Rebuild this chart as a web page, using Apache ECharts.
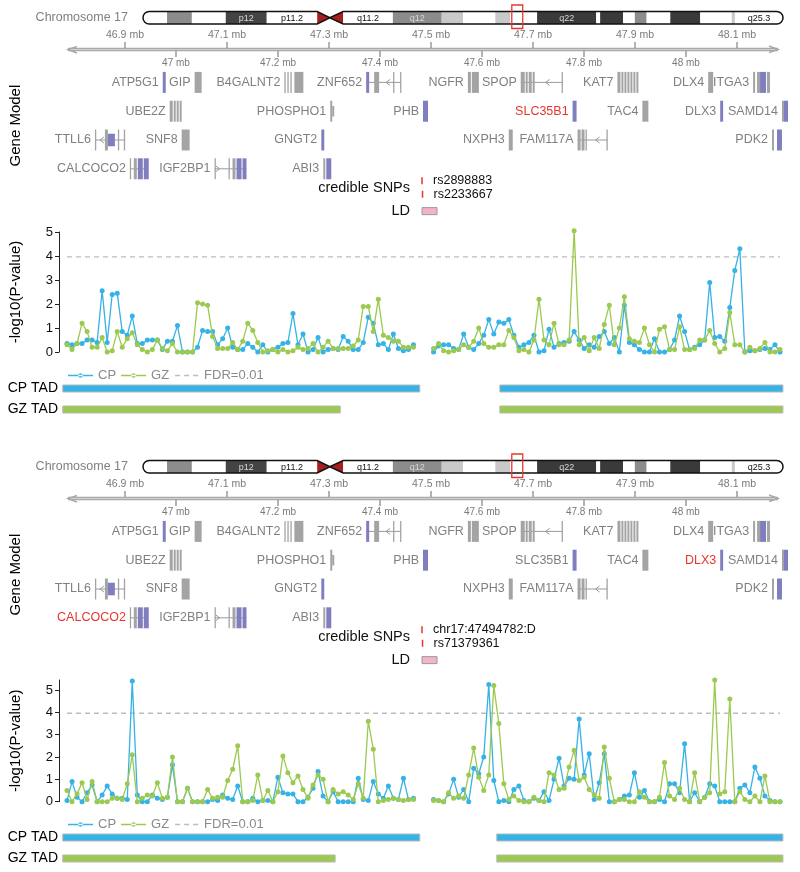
<!DOCTYPE html>
<html>
<head>
<meta charset="utf-8">
<script src="https://cdn.jsdelivr.net/npm/echarts@6/dist/echarts.min.js"></script>
<style>
  html, body { margin: 0; padding: 0; background: #fff; }
  #chart { width: 800px; height: 872px; }
</style>
</head>
<body>
<div id="chart"></div>
<script>
const FONT = '"Liberation Sans", Arial, Helvetica, sans-serif';
const BLUE = '#35b2e6';
const GREEN = '#9cc94f';
const GENE_GRAY = '#a4a4a4';
const GENE_BLUE = '#7f7fc0';
const TXT_GRAY = '#808080';
const RED = '#e8352b';

// genomic window shown in the gene track (Mb)
const VIEW = [46.78824, 48.18039];
const rulerExtent = [[46.78824, 48.18039]];
const rulerTicks = [46.9, 47.0, 47.1, 47.2, 47.3, 47.4, 47.5, 47.6, 47.7, 47.8, 47.9, 48.0, 48.1];

// chromosome 17 ideogram (Mb)
const chrLen = 81.2;
const ideoBands = [
  [0, 3.05, 'gneg', ''], [3.05, 6.2, 'gpos50', ''], [6.2, 10.5, 'gneg', ''],
  [10.5, 15.7, 'gpos75', 'p12'], [15.7, 22.1, 'gneg', 'p11.2'],
  [22.1, 23.7, 'acen', ''], [23.7, 25.4, 'acen', ''],
  [25.4, 31.7, 'gneg', 'q11.2'], [31.7, 37.9, 'gpos50', 'q12'], [37.9, 40.6, 'gpos25', ''],
  [40.6, 44.7, 'gneg', ''], [44.7, 46.6, 'gpos25', ''], [46.6, 50.0, 'gneg', ''],
  [50.0, 57.5, 'gpos100', 'q22'], [57.5, 58.0, 'gneg', ''], [58.0, 60.9, 'gpos100', ''],
  [60.9, 62.4, 'gneg', ''], [62.4, 63.9, 'gpos50', ''], [63.9, 66.9, 'gneg', ''],
  [66.9, 70.7, 'gpos100', ''], [70.7, 74.7, 'gneg', ''], [74.7, 75.1, 'gpos25', ''],
  [75.1, 81.2, 'gneg', 'q25.3']
];
const ideoShape = [[0, 22.1, 23.7, 25.4, 81.2]];
const regionBox = [[46.79, 48.18]];
const STAIN = { gneg: '#ffffff', gpos25: '#c9c9c9', gpos50: '#8c8c8c', gpos75: '#444444', gpos100: '#3a3a3a' };

// genes: name, row, strand, arrow position, span, exons [start, end, colour, height factor]
const genes = [
  ['ATP5G1', 0, 0, null, null, [[46.9706, 46.9765, 'b']]],
  ['GIP', 0, 0, null, null, [[47.0333, 47.0471, 'g']]],
  ['B4GALNT2', 0, 0, null, null, [[47.2098, 47.2118, 'g'], [47.2157, 47.2176, 'g'], [47.2216, 47.2235, 'g'], [47.2294, 47.2471, 'g']]],
  ['ZNF652', 0, -1, 47.4098, [47.3706, 47.4392], [[47.3706, 47.3765, 'b'], [47.3863, 47.3961, 'g'], [47.4235, 47.4255, 'g'], [47.4373, 47.4392, 'g']]],
  ['NGFR', 0, 0, null, null, [[47.5706, 47.5765, 'g'], [47.5784, 47.5922, 'g']]],
  ['SPOP', 0, -1, 47.7235, [47.6745, 47.7569], [[47.6745, 47.6824, 'g'], [47.6843, 47.6882, 'g'], [47.6902, 47.6961, 'g'], [47.6980, 47.7020, 'g'], [47.7549, 47.7569, 'g']]],
  ['KAT7', 0, 0, null, null, [[47.8647, 47.8706, 'g'], [47.8725, 47.8765, 'g'], [47.8784, 47.8824, 'g'], [47.8843, 47.8882, 'g'], [47.8902, 47.8941, 'g'], [47.8961, 47.9000, 'g'], [47.9020, 47.9059, 'g']]],
  ['DLX4', 0, 0, null, null, [[48.0431, 48.0529, 'g']]],
  ['ITGA3', 0, 0, null, null, [[48.1314, 48.1353, 'g'], [48.1392, 48.1451, 'g'], [48.1451, 48.1569, 'b'], [48.1588, 48.1647, 'g']]],
  ['UBE2Z', 1, 0, null, null, [[46.9843, 46.9902, 'g'], [46.9922, 46.9961, 'g'], [46.9980, 47.0020, 'g'], [47.0039, 47.0078, 'g']]],
  ['PHOSPHO1', 1, 0, null, null, [[47.3000, 47.3039, 'g'], [47.3039, 47.3078, 'g', 0.5]]],
  ['PHB', 1, 0, null, null, [[47.4824, 47.4922, 'b']]],
  ['SLC35B1', 1, 0, null, null, [[47.7765, 47.7843, 'b']]],
  ['TAC4', 1, 0, null, null, [[47.9137, 47.9255, 'g']]],
  ['DLX3', 1, 0, null, null, [[48.0667, 48.0725, 'b']]],
  ['SAMD14', 1, 0, null, null, [[48.1882, 48.1922, 'g'], [48.1922, 48.2000, 'b']]],
  ['TTLL6', 2, -1, 46.8471, [46.8373, 46.8961], [[46.8373, 46.8392, 'g'], [46.8569, 46.8627, 'g'], [46.8627, 46.8765, 'b', 0.6], [46.8824, 46.8843, 'g'], [46.8941, 46.8961, 'g']]],
  ['SNF8', 2, 0, null, null, [[47.0078, 47.0235, 'g']]],
  ['GNGT2', 2, 0, null, null, [[47.2824, 47.2882, 'b']]],
  ['NXPH3', 2, 0, null, null, [[47.6510, 47.6588, 'g']]],
  ['FAM117A', 2, -1, 47.8216, [47.7863, 47.8451], [[47.7863, 47.7922, 'g'], [47.7941, 47.8000, 'g'], [47.8020, 47.8039, 'g'], [47.8431, 47.8451, 'g']]],
  ['PDK2', 2, 0, null, null, [[48.1686, 48.1725, 'g'], [48.1784, 48.1882, 'b']]],
  ['CALCOCO2', 3, 0, null, [46.9059, 46.9431], [[46.9059, 46.9078, 'g'], [46.9137, 46.9196, 'g'], [46.9216, 46.9314, 'b'], [46.9333, 46.9431, 'b']]],
  ['IGF2BP1', 3, 1, 47.0824, [47.0725, 47.1353], [[47.0725, 47.0745, 'g'], [47.1000, 47.1020, 'g'], [47.1078, 47.1137, 'g'], [47.1157, 47.1255, 'b'], [47.1275, 47.1353, 'b']]],
  ['ABI3', 3, 0, null, null, [[47.2863, 47.2902, 'g'], [47.2922, 47.3020, 'b']]]
];

// credible SNPs, LD block, TADs
const snps1 = [['rs2898883', 47.4824], ['rs2233667', 47.4834]];
const snps2 = [['chr17:47494782:D', 47.4824], ['rs71379361', 47.4834]];
const ldBlock = [[47.4824, 47.5118]];
const highlight1 = ['SLC35B1'];
const highlight2 = ['CALCOCO2', 'DLX3'];
const tadRows = ['CP TAD', 'GZ TAD'];
const tads1 = [[46.778, 47.478, 0], [47.635, 48.190, 0], [46.778, 47.322, 1], [47.635, 48.190, 1]];
const tads2 = [[46.778, 47.478, 0], [47.629, 48.190, 0], [46.778, 47.312, 1], [47.629, 48.190, 1]];

// -log10(P) per SNP, left and right block
const cpLeft1 = [0.35,0.3,0.35,0.35,0.5,0.5,0.4,2.55,0.4,2.4,
  2.45,0.85,0.7,1.5,0.35,0.35,0.5,0.5,0.5,0.1,
  0.45,0.45,1.1,0.0,0.0,0.0,0.2,0.9,0.85,0.85,
  0.3,0.55,1.0,0.2,0.1,0.1,0.35,0.2,0.0,0.3,
  0.0,0.1,0.2,0.35,0.4,1.6,0.3,0.75,0.0,0.1,
  0.6,0.0,0.1,0.15,0.1,0.65,0.45,0.1,0.1,0.4,
  1.45,1.2,0.3,0.35,0.1,0.75,0.15,0.05,0.1,0.3];
const gzLeft1 = [0.3,0.1,0.35,1.2,0.85,0.2,0.2,0.6,0.0,0.05,
  0.85,0.2,0.55,0.8,0.3,0.1,0.0,0.1,0.5,0.15,
  0.05,0.35,0.0,0.0,0.0,0.0,2.05,2.0,1.95,0.65,
  0.15,0.15,0.15,0.4,0.1,0.45,1.2,0.9,0.4,0.0,
  0.05,0.1,0.0,0.1,0.0,0.05,0.2,0.1,0.15,0.35,
  0.0,0.2,0.45,0.15,0.15,0.15,0.15,0.25,0.5,1.9,
  1.9,0.85,2.2,0.7,0.6,0.45,0.45,0.2,0.2,0.2];
const cpRight1 = [0.0,0.25,0.3,0.3,0.15,0.1,0.75,0.2,0.1,0.35,
  0.7,1.35,0.75,1.25,1.2,1.35,0.7,0.2,0.3,0.4,
  0.7,0.0,0.05,0.95,0.2,0.35,0.4,0.45,0.85,0.5,
  0.15,0.3,0.2,0.65,0.85,0.35,0.6,0.0,1.95,0.4,
  0.3,0.1,0.0,0.0,0.55,0.0,0.0,0.1,0.5,1.5,
  0.85,0.1,0.2,0.3,0.5,2.9,0.6,0.65,0.45,1.85,
  3.4,4.3,0.0,0.05,0.05,0.1,0.15,0.1,0.3,0.0];
const gzRight1 = [0.15,0.35,0.05,0.0,0.05,0.1,0.3,0.2,0.45,1.0,
  0.35,0.2,0.2,0.3,0.3,0.9,0.6,0.05,0.1,0.0,
  0.5,2.2,0.5,0.3,1.2,0.3,0.3,0.5,5.05,0.3,
  0.6,0.05,0.6,0.15,1.15,1.95,0.3,1.0,2.3,0.55,
  0.45,0.4,1.0,0.3,0.0,0.95,1.05,0.1,0.1,1.05,
  0.1,0.1,0.15,0.5,0.5,0.9,0.35,0.0,0.15,1.65,
  0.3,0.3,0.0,0.2,0.05,0.15,0.4,0.0,0.0,0.1];
const cpLeft2 = [0.05,0.9,0.2,0.0,0.4,0.75,0.0,0.3,0.7,0.35,
  0.15,0.15,0.1,5.4,0.3,0.0,0.0,0.3,0.15,0.1,
  0.2,1.65,0.0,0.0,0.6,0.0,0.0,0.0,0.0,0.1,
  0.05,0.3,0.15,0.1,0.7,0.0,0.0,0.15,0.0,0.05,
  0.05,0.0,1.1,0.4,0.35,0.35,0.0,0.0,0.2,0.6,
  1.35,0.25,0.0,0.45,0.0,0.0,0.0,0.0,1.05,0.1,
  0.05,0.9,0.35,0.15,0.7,0.15,0.1,1.05,0.1,0.15];
const gzLeft2 = [0.5,0.0,0.35,0.85,0.1,0.9,0.0,0.0,0.0,0.15,
  0.15,0.1,0.8,2.1,0.0,0.15,0.3,0.25,0.85,0.15,
  0.2,2.0,0.0,0.0,0.6,0.0,0.0,0.0,0.55,0.15,
  0.2,0.2,0.95,1.45,2.5,0.0,0.0,0.05,1.2,0.05,
  0.5,0.0,0.45,2.05,1.3,0.85,1.15,0.55,0.15,0.75,
  1.2,1.0,0.0,0.55,0.35,0.45,0.3,0.1,0.8,0.15,
  3.6,2.35,0.0,0.05,0.1,0.15,0.1,0.05,0.1,0.1];
const cpRight2 = [0.1,0.05,0.0,0.35,1.0,0.2,0.55,0.0,1.5,1.25,
  2.0,5.25,0.95,0.0,0.05,0.0,0.55,0.7,0.05,0.0,
  0.15,0.05,0.45,0.05,1.0,1.95,0.7,1.05,1.0,3.7,
  1.2,2.15,0.1,0.85,2.15,0.0,0.0,0.1,0.25,0.3,
  1.3,0.2,0.5,0.0,0.0,0.1,0.0,0.8,0.8,0.4,
  2.6,0.0,0.4,0.0,0.2,0.8,0.7,0.0,0.0,0.0,
  0.0,0.6,0.75,0.4,1.55,1.05,0.25,0.05,0.0,0.0];
const gzRight2 = [0.05,0.05,0.0,0.4,0.15,0.25,0.15,1.2,2.4,1.1,
  0.5,1.2,5.2,3.5,0.8,0.1,0.25,0.05,0.0,0.0,
  0.2,0.05,0.0,1.3,1.2,0.55,0.6,1.55,2.3,0.95,
  1.1,0.55,0.3,0.15,2.45,1.05,0.0,0.1,0.1,0.0,
  0.0,0.45,0.2,0.0,0.0,0.2,1.75,0.25,0.1,0.6,
  0.1,0.0,1.3,0.0,0.2,0.4,5.45,0.35,0.45,4.6,
  0.0,0.45,0.1,0.0,0.25,0.0,1.15,0.0,0.0,0.0];
const fdrLevel = 3.96;
const yTicks = [0, 1, 2, 3, 4, 5];

const GAP = [null, null, null];
const snpIdx = cpLeft1.concat(GAP, cpRight1).map((_, i) => String(i));

// legend glyphs: line with a small dot, and a short dashed line
const ICON_DOT = 'path://M0 0h0.01v0.01H0z M25 10h-0.01v-0.01H25z M0 4.25H25V5.75H0z M10.2 5a2.3 2.3 0 1 0 4.6 0a2.3 2.3 0 1 0 -4.6 0z';
const ICON_DASH = 'path://M0 0h0.01v0.01H0z M25 10h-0.01v-0.01H25z M1 4.3h5v1.4H1z M10 4.3h5v1.4h-5z M19 4.3h5v1.4h-5z';

function txt(text, x, y, align, vAlign, size, color) {
  return {
    type: 'text', x, y,
    style: {
      text, fill: color, font: size + 'px ' + FONT,
      align, verticalAlign: vAlign, textAlign: align, textVerticalAlign: vAlign
    }
  };
}

function renderBand(params, api) {
  const i = params.dataIndex;
  const b = ideoBands[i];
  const p0 = api.coord([b[0], 1]);
  const p1 = api.coord([b[1], 0]);
  const x0 = p0[0], x1 = p1[0], top = p0[1], bot = p1[1], mid = (top + bot) / 2;
  const r = (bot - top) / 2;
  const kids = [];
  if (b[2] === 'acen') {
    const first = ideoBands[i - 1][2] !== 'acen';
    const pts = first ? [[x0, top], [x1, mid], [x0, bot]] : [[x0, mid], [x1, top], [x1, bot]];
    kids.push({ type: 'polygon', shape: { points: pts }, style: { fill: '#a3201f' } });
  } else {
    const rr = i === 0 ? [r, 0, 0, r] : (i === ideoBands.length - 1 ? [0, r, r, 0] : 0);
    kids.push({ type: 'rect', shape: { x: x0, y: top, width: x1 - x0, height: bot - top, r: rr }, style: { fill: STAIN[b[2]] } });
  }
  if (b[3]) {
    const dark = b[2] === 'gpos75' || b[2] === 'gpos100' || b[2] === 'gpos50';
    kids.push(txt(b[3], (x0 + x1) / 2, mid + 0.5, 'center', 'middle', 9, dark ? '#d8d8d8' : '#111'));
  }
  return { type: 'group', children: kids };
}

function renderOutline(params, api) {
  const s = ideoShape[params.dataIndex];
  const X = v => api.coord([v, 0])[0];
  const top = api.coord([0, 1])[1], bot = api.coord([0, 0])[1];
  const mid = (top + bot) / 2, r = (bot - top) / 2;
  const xs = X(s[0]), xa = X(s[1]), xm = X(s[2]), xb = X(s[3]), xe = X(s[4]);
  const d = 'M' + (xs + r) + ' ' + top + ' L' + xa + ' ' + top + ' L' + xm + ' ' + mid + ' L' + xb + ' ' + top +
    ' L' + (xe - r) + ' ' + top + ' A' + r + ' ' + r + ' 0 0 1 ' + (xe - r) + ' ' + bot +
    ' L' + xb + ' ' + bot + ' L' + xm + ' ' + mid + ' L' + xa + ' ' + bot + ' L' + (xs + r) + ' ' + bot +
    ' A' + r + ' ' + r + ' 0 0 1 ' + (xs + r) + ' ' + top + ' Z';
  return { type: 'path', shape: { pathData: d }, style: { fill: 'none', stroke: '#111', lineWidth: 1.5 } };
}

function renderBox(params, api) {
  const b = regionBox[params.dataIndex];
  const p0 = api.coord([b[0], 1]), p1 = api.coord([b[1], 0]);
  return {
    type: 'rect',
    shape: { x: p0[0], y: p0[1] - 6.5, width: p1[0] - p0[0], height: p1[1] - p0[1] + 11 },
    style: { fill: 'none', stroke: RED, lineWidth: 1.3 }
  };
}

function renderRulerLine(params, api) {
  const e = rulerExtent[params.dataIndex];
  const a = api.coord([e[0], 0.5]), b = api.coord([e[1], 0.5]);
  const y = a[1];
  return {
    type: 'group', children: [
      { type: 'line', shape: { x1: a[0], y1: y, x2: b[0], y2: y }, style: { stroke: '#a9a9a9', lineWidth: 3.5 } },
      { type: 'line', shape: { x1: a[0] + 2, y1: y, x2: b[0] - 2, y2: y }, style: { stroke: '#dcdcdc', lineWidth: 0.8 } },
      { type: 'polyline', shape: { points: [[a[0] + 9, y - 3], [a[0], y], [a[0] + 9, y + 3.5]] }, style: { stroke: '#a9a9a9', lineWidth: 1.5, fill: 'none' } },
      { type: 'polyline', shape: { points: [[b[0] - 9, y - 3.5], [b[0], y], [b[0] - 9, y + 3]] }, style: { stroke: '#a9a9a9', lineWidth: 1.5, fill: 'none' } }
    ]
  };
}

function renderRulerTick(params, api) {
  const v = rulerTicks[params.dataIndex];
  const p = api.coord([v, 0.5]);
  const up = Math.round(v * 10) % 2 !== 0;
  const label = String(Math.round(v * 10) / 10) + ' mb';
  if (up) {
    return {
      type: 'group', children: [
        { type: 'line', shape: { x1: p[0], y1: p[1] - 7.5, x2: p[0], y2: p[1] - 1.5 }, style: { stroke: '#9a9a9a', lineWidth: 1.5 } },
        txt(label, p[0], p[1] - 14, 'center', 'middle', 10.5, '#7a7a7a')
      ]
    };
  }
  return {
    type: 'group', children: [
      { type: 'line', shape: { x1: p[0], y1: p[1] + 1.5, x2: p[0], y2: p[1] + 7.5 }, style: { stroke: '#9a9a9a', lineWidth: 1.5 } },
      txt(label, p[0], p[1] + 13.5, 'center', 'middle', 10, '#7a7a7a')
    ]
  };
}

function makeGeneRenderer(hl) {
  return function (params, api) {
    const g = genes[params.dataIndex];
    const row = g[1], strand = g[2], arrowAt = g[3], span = g[4], exons = g[5];
    const yc = api.coord([exons[0][0], row])[1];
    const H = 21;
    const kids = [];
    let left = api.coord([exons[0][0], row])[0];
    if (span) {
      const a = api.coord([span[0], row])[0], b = api.coord([span[1], row])[0];
      left = Math.min(left, a);
      kids.push({ type: 'line', shape: { x1: a, y1: yc, x2: b, y2: yc }, style: { stroke: '#9a9a9a', lineWidth: 1 } });
      if (arrowAt !== null) {
        const ax = api.coord([arrowAt, row])[0];
        const d = strand < 0 ? 4 : -4;
        kids.push({ type: 'polyline', shape: { points: [[ax + d, yc - 3], [ax, yc], [ax + d, yc + 3]] }, style: { stroke: '#9a9a9a', lineWidth: 1, fill: 'none' } });
      }
    }
    exons.forEach(e => {
      const x1 = api.coord([e[0], row])[0], x2 = api.coord([e[1], row])[0];
      const h = H * (e[3] || 1);
      kids.push({
        type: 'rect',
        shape: { x: x1, y: yc - h / 2, width: Math.max(x2 - x1, 1.3), height: h },
        style: { fill: e[2] === 'b' ? GENE_BLUE : GENE_GRAY }
      });
    });
    const red = hl.indexOf(g[0]) >= 0;
    kids.push(txt(g[0], left - 4, yc, 'right', 'middle', 12.5, red ? RED : TXT_GRAY));
    return { type: 'group', children: kids };
  };
}

function makeSnpRenderer(list) {
  return function (params, api) {
    const p = api.coord([api.value(0), api.value(1)]);
    const kids = [
      { type: 'line', shape: { x1: p[0], y1: p[1] - 3.5, x2: p[0], y2: p[1] + 3.5 }, style: { stroke: RED, lineWidth: 1.5 } },
      txt(list[params.dataIndex][0], p[0] + 11, p[1], 'left', 'middle', 12.5, '#111')
    ];
    if (params.dataIndex === 0) {
      kids.push(txt('credible SNPs', p[0] - 12, p[1] + 6.75, 'right', 'middle', 14.5, '#111'));
    }
    return { type: 'group', children: kids };
  };
}

function renderLd(params, api) {
  const b = ldBlock[params.dataIndex];
  const p0 = api.coord([b[0], 2.25]), p1 = api.coord([b[1], 2.25]);
  return {
    type: 'group', children: [
      { type: 'rect', shape: { x: p0[0], y: p0[1] - 3.5, width: p1[0] - p0[0], height: 7 }, style: { fill: '#f4b4c7', stroke: '#9a9a9a', lineWidth: 1 } },
      txt('LD', p0[0] - 12, p0[1], 'right', 'middle', 14.5, '#111')
    ]
  };
}

function makeTadRenderer(list) {
  return function (params, api) {
    const t = list[params.dataIndex];
    const a = api.coord([t[0], t[2]]), b = api.coord([t[1], t[2]]);
    return {
      type: 'rect',
      shape: { x: a[0], y: a[1] - 3.5, width: b[0] - a[0], height: 7 },
      style: { fill: t[2] === 0 ? BLUE : GREEN, stroke: '#b8b8b8', lineWidth: 1 }
    };
  };
}

const option = {
  animation: false,
  backgroundColor: '#fff',
  textStyle: { fontFamily: FONT },
  grid: [], xAxis: [], yAxis: [], series: [], legend: [], graphic: []
};

function addPanel(P) {
  const D = P.dy;
  const g0 = option.grid.length;
  option.grid.push(
    { left: 143, right: 17, top: 11.5 + D, height: 12.5 },
    { left: 68, right: 22, top: 49 + D, height: 1 },
    { left: 68, right: 22, top: 68 + D, height: 115.2 },
    { left: 68, right: 22, top: 180.75 + D, height: 40.5 },
    { left: 67, right: 20, top: P.lineTop, height: P.lineH },
    { left: 68, right: 22, top: 378 + D, height: 42 }
  );
  const hidden = { show: false };
  option.xAxis.push(
    { type: 'value', gridIndex: g0, min: 0, max: chrLen, ...hidden },
    { type: 'value', gridIndex: g0 + 1, min: VIEW[0], max: VIEW[1], ...hidden },
    { type: 'value', gridIndex: g0 + 2, min: VIEW[0], max: VIEW[1], ...hidden },
    { type: 'value', gridIndex: g0 + 3, min: VIEW[0], max: VIEW[1], ...hidden },
    { type: 'category', gridIndex: g0 + 4, data: snpIdx, boundaryGap: false, ...hidden },
    { type: 'value', gridIndex: g0 + 5, min: VIEW[0], max: VIEW[1], ...hidden }
  );
  option.yAxis.push(
    { type: 'value', gridIndex: g0, min: 0, max: 1, ...hidden },
    { type: 'value', gridIndex: g0 + 1, min: 0, max: 1, ...hidden },
    {
      type: 'value', gridIndex: g0 + 2, min: -0.5, max: 3.5, inverse: true,
      name: 'Gene Model', nameLocation: 'middle', nameGap: 47, nameRotate: 90,
      nameTextStyle: { fontSize: 15, color: '#000', fontFamily: FONT },
      axisLine: { show: false }, axisTick: { show: false }, axisLabel: { show: false }, splitLine: { show: false }
    },
    { type: 'value', gridIndex: g0 + 3, min: 0, max: 3, inverse: true, ...hidden },
    {
      type: 'value', gridIndex: g0 + 4, min: 0, max: P.yMax, interval: 1, offset: 8,
      name: '-log10(P-value)', nameLocation: 'middle', nameGap: 36, nameRotate: 90,
      nameTextStyle: { fontSize: 15, color: '#000', fontFamily: FONT },
      axisLine: { show: true, lineStyle: { color: '#222', width: 1 } },
      axisTick: { show: true, length: 4, lineStyle: { color: '#222' }, customValues: yTicks },
      axisLabel: {
        color: '#111', fontSize: 13, margin: 6, customValues: yTicks,
        formatter: v => (Math.abs(v - Math.round(v)) < 1e-6 ? String(Math.round(v)) : '')
      },
      splitLine: { show: false }
    },
    {
      type: 'category', gridIndex: g0 + 5, data: tadRows, inverse: true,
      axisLine: { show: false }, axisTick: { show: false },
      axisLabel: { color: '#000', fontSize: 14, margin: 10 }
    }
  );
  const common = { silent: true, clip: false, animation: false };
  option.series.push(
    { type: 'custom', xAxisIndex: g0, yAxisIndex: g0, data: ideoBands.map(b => [b[0], b[1]]), renderItem: renderBand, ...common },
    { type: 'custom', xAxisIndex: g0, yAxisIndex: g0, data: ideoShape, renderItem: renderOutline, z: 3, ...common },
    { type: 'custom', xAxisIndex: g0, yAxisIndex: g0, data: regionBox, renderItem: renderBox, z: 4, ...common },
    { type: 'custom', xAxisIndex: g0 + 1, yAxisIndex: g0 + 1, data: rulerExtent, renderItem: renderRulerLine, ...common },
    { type: 'custom', xAxisIndex: g0 + 1, yAxisIndex: g0 + 1, data: rulerTicks.map(v => [v, 0.5]), renderItem: renderRulerTick, ...common },
    { type: 'custom', xAxisIndex: g0 + 2, yAxisIndex: g0 + 2, data: genes.map(g => [g[5][0][0], g[1]]), renderItem: makeGeneRenderer(P.hl), ...common },
    { type: 'custom', xAxisIndex: g0 + 3, yAxisIndex: g0 + 3, data: P.snps.map((s, i) => [s[1], i]), renderItem: makeSnpRenderer(P.snps), ...common },
    { type: 'custom', xAxisIndex: g0 + 3, yAxisIndex: g0 + 3, data: ldBlock, renderItem: renderLd, ...common },
    {
      type: 'line', name: 'FDR=0.01', xAxisIndex: g0 + 4, yAxisIndex: g0 + 4,
      data: snpIdx.map(() => fdrLevel), symbol: 'none',
      lineStyle: { color: '#bdbdbd', width: 1.3, type: [5, 4] }, itemStyle: { color: '#bdbdbd' },
      silent: true, z: 1
    },
    {
      type: 'line', name: 'CP', xAxisIndex: g0 + 4, yAxisIndex: g0 + 4,
      data: P.cp, symbol: 'circle', symbolSize: 5, showAllSymbol: true, connectNulls: false, clip: false,
      lineStyle: { color: BLUE, width: 1.3 }, itemStyle: { color: BLUE }, silent: true, z: 2
    },
    {
      type: 'line', name: 'GZ', xAxisIndex: g0 + 4, yAxisIndex: g0 + 4,
      data: P.gz, symbol: 'circle', symbolSize: 5, showAllSymbol: true, connectNulls: false, clip: false,
      lineStyle: { color: GREEN, width: 1.3 }, itemStyle: { color: GREEN }, silent: true, z: 3
    },
    { type: 'custom', xAxisIndex: g0 + 5, yAxisIndex: g0 + 5, data: P.tads.map(t => [t[0], t[2]]), renderItem: makeTadRenderer(P.tads), ...common }
  );
  option.legend.push({
    left: 63, top: 364 + D, itemWidth: 25, itemHeight: 10, itemGap: 5,
    itemStyle: { borderWidth: 0 },
    textStyle: { color: '#8a8a8a', fontSize: 13, fontFamily: FONT },
    data: [
      { name: 'CP', icon: ICON_DOT },
      { name: 'GZ', icon: ICON_DOT },
      { name: 'FDR=0.01', icon: ICON_DASH }
    ],
    selectedMode: false
  });
  option.graphic.push({
    type: 'text', x: 128, y: 17.5 + D,
    style: { text: 'Chromosome 17', fill: TXT_GRAY, font: '12.5px ' + FONT, align: 'right', verticalAlign: 'middle', textAlign: 'right', textVerticalAlign: 'middle' }
  });
}

addPanel({ dy: 0, lineTop: 232, lineH: 120, yMax: 5, hl: highlight1, snps: snps1, tads: tads1,
  cp: cpLeft1.concat(GAP, cpRight1), gz: gzLeft1.concat(GAP, gzRight1) });
addPanel({ dy: 449, lineTop: 680, lineH: 121.7, yMax: 5.45, hl: highlight2, snps: snps2, tads: tads2,
  cp: cpLeft2.concat(GAP, cpRight2), gz: gzLeft2.concat(GAP, gzRight2) });

const chart = echarts.init(document.getElementById('chart'), null, { renderer: 'canvas' });
chart.setOption(option);
window.addEventListener('resize', () => chart.resize());
</script>
</body>
</html>
